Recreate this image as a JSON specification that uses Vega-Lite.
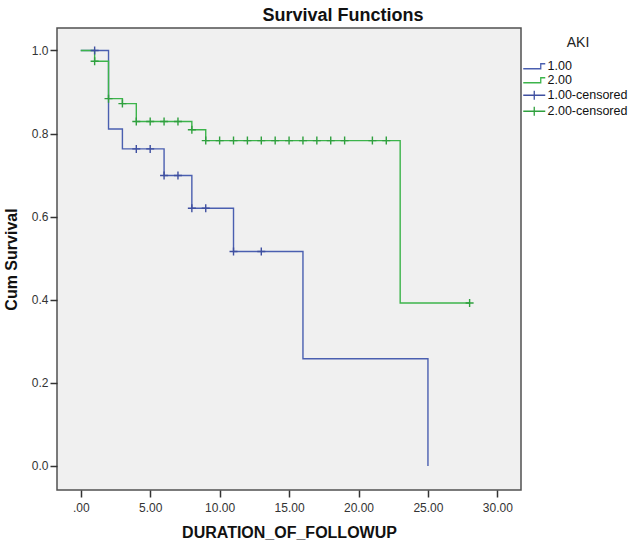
{
  "$schema": "https://vega.github.io/schema/vega-lite/v6.json",
  "width": 464,
  "height": 462,
  "autosize": {"type": "none"},
  "padding": {"left": 57, "top": 28, "right": 112, "bottom": 56},
  "background": "white",
  "title": {
    "text": "Survival Functions",
    "anchor": "middle",
    "dx": 54,
    "dy": 19,
    "fontSize": 18,
    "fontWeight": "bold",
    "color": "#111",
    "baseline": "alphabetic",
    "offset": 8
  },
  "datasets": {
    "curves": [
      {"t": 0, "s": 1.0, "series": "1.00"},
      {"t": 2, "s": 0.811, "series": "1.00"},
      {"t": 3, "s": 0.763, "series": "1.00"},
      {"t": 6, "s": 0.699, "series": "1.00"},
      {"t": 8, "s": 0.62, "series": "1.00"},
      {"t": 11, "s": 0.516, "series": "1.00"},
      {"t": 16, "s": 0.258, "series": "1.00"},
      {"t": 25, "s": 0.0, "series": "1.00"},
      {"t": 0, "s": 1.0, "series": "2.00"},
      {"t": 1, "s": 0.974, "series": "2.00"},
      {"t": 2, "s": 0.884, "series": "2.00"},
      {"t": 3, "s": 0.872, "series": "2.00"},
      {"t": 4, "s": 0.829, "series": "2.00"},
      {"t": 8, "s": 0.809, "series": "2.00"},
      {"t": 9, "s": 0.783, "series": "2.00"},
      {"t": 23, "s": 0.392, "series": "2.00"},
      {"t": 28, "s": 0.392, "series": "2.00"}
    ],
    "censored": [
      {"t": 1, "s": 1.0, "series": "1.00-censored"},
      {"t": 4, "s": 0.763, "series": "1.00-censored"},
      {"t": 5, "s": 0.763, "series": "1.00-censored"},
      {"t": 6, "s": 0.699, "series": "1.00-censored"},
      {"t": 7, "s": 0.699, "series": "1.00-censored"},
      {"t": 8, "s": 0.62, "series": "1.00-censored"},
      {"t": 9, "s": 0.62, "series": "1.00-censored"},
      {"t": 11, "s": 0.516, "series": "1.00-censored"},
      {"t": 13, "s": 0.516, "series": "1.00-censored"},
      {"t": 1, "s": 0.974, "series": "2.00-censored"},
      {"t": 2, "s": 0.884, "series": "2.00-censored"},
      {"t": 3, "s": 0.872, "series": "2.00-censored"},
      {"t": 4, "s": 0.829, "series": "2.00-censored"},
      {"t": 5, "s": 0.829, "series": "2.00-censored"},
      {"t": 6, "s": 0.829, "series": "2.00-censored"},
      {"t": 7, "s": 0.829, "series": "2.00-censored"},
      {"t": 8, "s": 0.809, "series": "2.00-censored"},
      {"t": 9, "s": 0.783, "series": "2.00-censored"},
      {"t": 10, "s": 0.783, "series": "2.00-censored"},
      {"t": 11, "s": 0.783, "series": "2.00-censored"},
      {"t": 12, "s": 0.783, "series": "2.00-censored"},
      {"t": 13, "s": 0.783, "series": "2.00-censored"},
      {"t": 14, "s": 0.783, "series": "2.00-censored"},
      {"t": 15, "s": 0.783, "series": "2.00-censored"},
      {"t": 16, "s": 0.783, "series": "2.00-censored"},
      {"t": 17, "s": 0.783, "series": "2.00-censored"},
      {"t": 18, "s": 0.783, "series": "2.00-censored"},
      {"t": 19, "s": 0.783, "series": "2.00-censored"},
      {"t": 21, "s": 0.783, "series": "2.00-censored"},
      {"t": 22, "s": 0.783, "series": "2.00-censored"},
      {"t": 28, "s": 0.392, "series": "2.00-censored"}
    ]
  },
  "encoding": {
    "x": {
      "field": "t",
      "type": "quantitative",
      "scale": {"domain": [-1.71, 31.7], "nice": false, "zero": false},
      "axis": {
        "title": "DURATION_OF_FOLLOWUP",
        "values": [0, 5, 10, 15, 20, 25, 30],
        "labelExpr": "datum.value == 0 ? '.00' : format(datum.value, '.2f')",
        "labelPadding": 5,
        "titlePadding": 11
      }
    },
    "y": {
      "field": "s",
      "type": "quantitative",
      "scale": {"domain": [-0.058, 1.054], "nice": false, "zero": false},
      "axis": {
        "title": "Cum Survival",
        "values": [0, 0.2, 0.4, 0.6, 0.8, 1.0],
        "format": ".1f",
        "titlePadding": 12
      }
    },
    "color": {
      "field": "series",
      "type": "nominal",
      "scale": {
        "domain": ["1.00", "2.00", "1.00-censored", "2.00-censored"],
        "range": ["#4a5fb0", "#3cb44b", "#3e4fa0", "#2fa03e"]
      },
      "legend": {
        "title": "AKI",
        "orient": "none",
        "legendX": 471,
        "legendY": 8,
        "titleAnchor": "middle",
        "titleFontSize": 14,
        "titleFontWeight": "normal",
        "titleColor": "#222",
        "titlePadding": 10,
        "labelFontSize": 12.5,
        "labelColor": "#111",
        "labelOffset": 7,
        "padding": 0,
        "rowPadding": 1,
        "symbolSize": 100,
        "symbolStrokeWidth": 1.3,
        "encode": {
          "symbols": {
            "update": {
              "shape": {"signal": "indexof(datum.value, 'censored') >= 0 ? 'M-2.2,0H2.2M0,-0.9V0.9' : 'M-2.2,0.5H1.3V-0.5H2.2'"},
              "fill": {"value": "transparent"},
              "strokeWidth": {"value": 1.3}
            }
          }
        }
      }
    }
  },
  "layer": [
    {
      "data": {"name": "curves"},
      "mark": {"type": "line", "interpolate": "step-after", "strokeWidth": 1.4}
    },
    {
      "data": {"name": "censored"},
      "mark": {"type": "point", "shape": "M-1,0H1M0,-1V1", "filled": false, "size": 64, "strokeWidth": 1.4, "opacity": 1}
    }
  ],
  "config": {
    "font": "Liberation Sans",
    "view": {"fill": "#f0f0f0", "stroke": "#505050", "strokeWidth": 1.5},
    "axis": {
      "grid": false,
      "domain": false,
      "tickSize": 7,
      "tickColor": "#333",
      "tickWidth": 1.5,
      "labelFontSize": 12,
      "labelColor": "#333",
      "labelPadding": 2,
      "titleFontSize": 16,
      "titleFontWeight": "bold",
      "titleColor": "#111"
    }
  }
}
